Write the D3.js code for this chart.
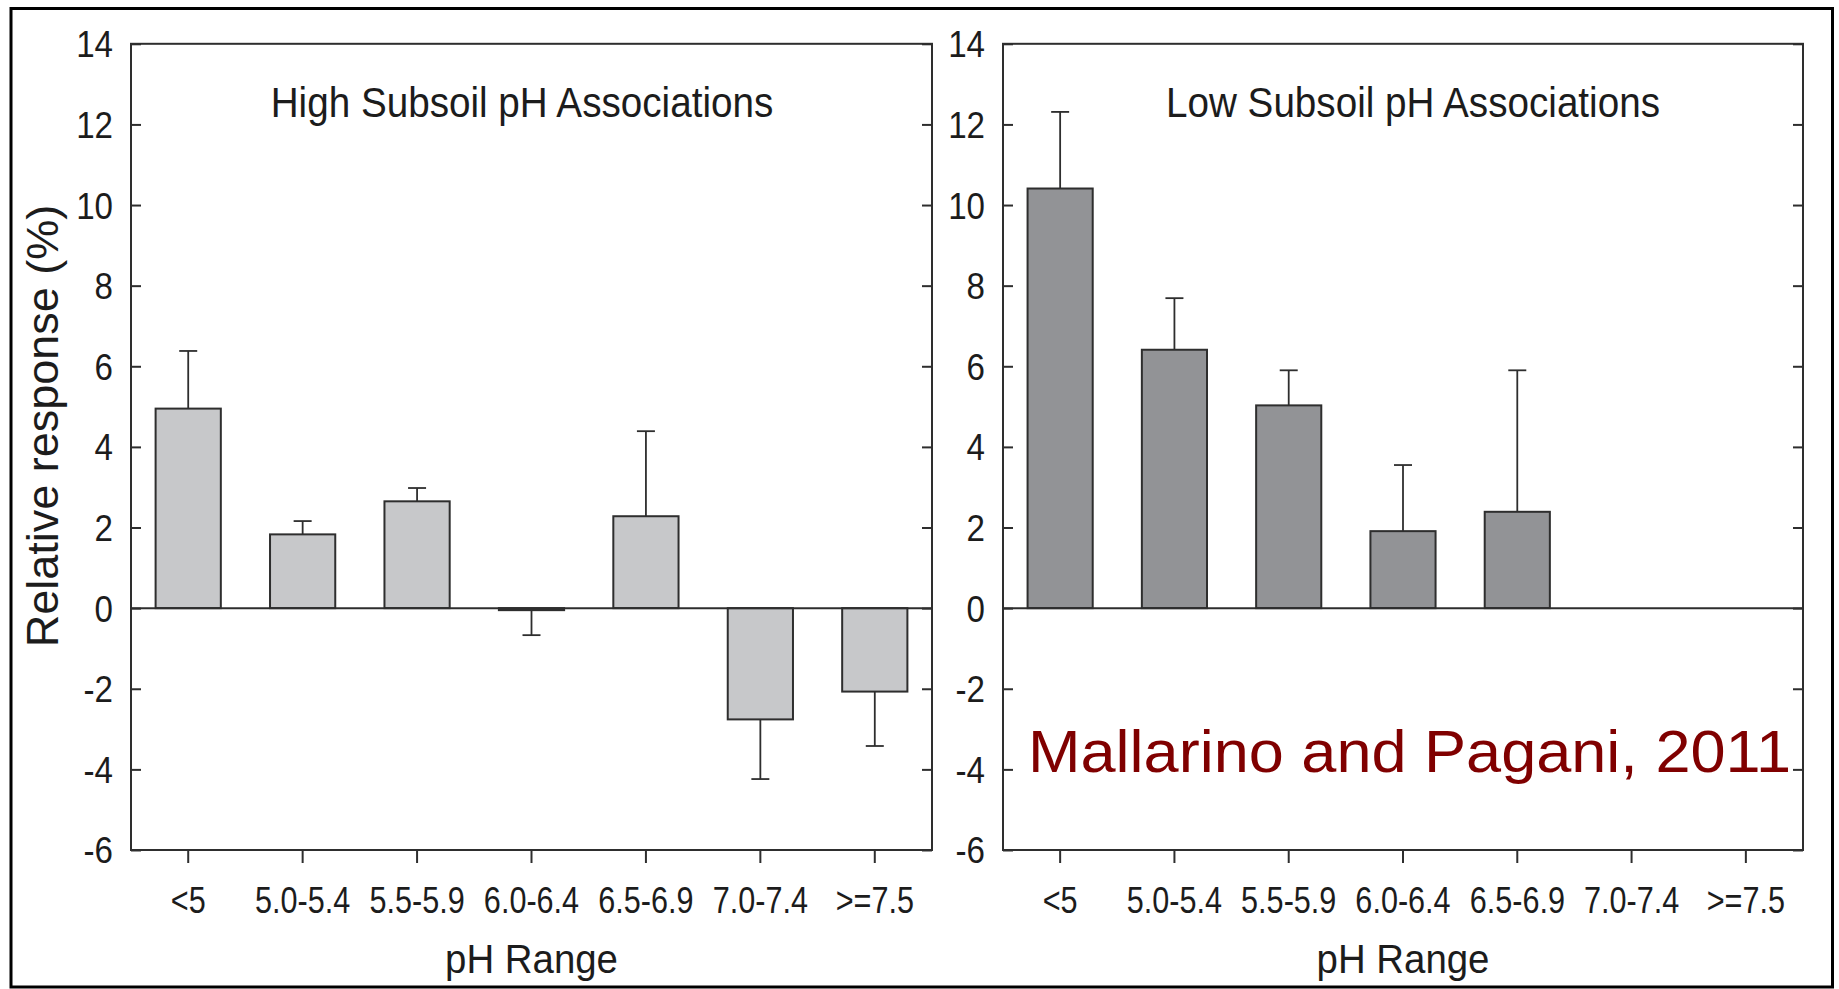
<!DOCTYPE html>
<html>
<head>
<meta charset="utf-8">
<script src="https://cdn.jsdelivr.net/npm/d3@7"></script>
<style>
  body { margin: 0; background: #fff; }
  svg { display: block; }
  text { font-family: "Liberation Sans", Arial, sans-serif; fill: #1c1c1c; }
</style>
</head>
<body>
<svg id="chart" width="1839" height="989"></svg>
<script>
// pH classes shared by both panels
const categories = ["<5", "5.0-5.4", "5.5-5.9", "6.0-6.4", "6.5-6.9", "7.0-7.4", ">=7.5"];

// High subsoil pH associations: mean relative response (%) and one-sided error
const highMean = [4.95, 1.83, 2.65, -0.05, 2.28, -2.76, -2.07];
const highErr  = [1.43, 0.33, 0.33, 0.62, 2.11, 1.48, 1.35];

// Low subsoil pH associations (no data in the two highest pH classes)
const lowMean = [10.41, 6.41, 5.03, 1.91, 2.39, null, null];
const lowErr  = [1.90, 1.28, 0.87, 1.64, 3.51, null, null];

const yTicks = [-6, -4, -2, 0, 2, 4, 6, 8, 10, 12, 14];
const panelTitles = ["High Subsoil pH Associations", "Low Subsoil pH Associations"];
const xTitle = "pH Range";
const yTitle = "Relative response (%)";
const credit = "Mallarino and Pagani, 2011";

const svg = d3.select("#chart");
svg.append("rect").attr("width", 1839).attr("height", 989).attr("fill", "#fff");

// outer black border
svg.append("rect")
  .attr("x", 11).attr("y", 8.5).attr("width", 1821.5).attr("height", 978.5)
  .attr("fill", "none").attr("stroke", "#000").attr("stroke-width", 3);

const plotTop = 43.8, plotBottom = 850;
const y = d3.scaleLinear().domain([-6, 14]).range([plotBottom, plotTop]);

const panels = [
  { left: 131, right: 932, mean: highMean, err: highErr, fill: "#c7c8ca", title: panelTitles[0], titleX: 522 },
  { left: 1003, right: 1803, mean: lowMean, err: lowErr, fill: "#929396", title: panelTitles[1], titleX: 1413 }
];

// squeeze a text element horizontally to a fraction of its natural width
function condense(sel, k) {
  sel.each(function () {
    const w = this.getComputedTextLength();
    d3.select(this).attr("textLength", w * k).attr("lengthAdjust", "spacingAndGlyphs");
  });
}

const ink = "#2e2e2e";

panels.forEach(p => {
  const g = svg.append("g");
  const x = d3.scaleBand().domain(categories).range([p.left, p.right])
    .paddingInner(0.43).paddingOuter(0.215);

  const rows = categories.map((c, i) => ({ c, v: p.mean[i], e: p.err[i] }))
    .filter(d => d.v !== null);

  // error bars (one-sided, pointing away from zero)
  const capW = 18;
  const eb = g.append("g").attr("stroke", ink).attr("stroke-width", 1.8);
  rows.forEach(d => {
    const cx = x(d.c) + x.bandwidth() / 2;
    const end = d.v + Math.sign(d.v) * d.e;
    eb.append("line").attr("x1", cx).attr("x2", cx).attr("y1", y(d.v)).attr("y2", y(end));
    eb.append("line").attr("x1", cx - capW / 2).attr("x2", cx + capW / 2).attr("y1", y(end)).attr("y2", y(end));
  });

  // bars
  g.append("g").selectAll("rect").data(rows).join("rect")
    .attr("x", d => x(d.c))
    .attr("width", x.bandwidth())
    .attr("y", d => y(Math.max(0, d.v)))
    .attr("height", d => Math.abs(y(d.v) - y(0)))
    .attr("fill", p.fill)
    .attr("stroke", ink).attr("stroke-width", 2);

  // zero line
  g.append("line").attr("x1", p.left).attr("x2", p.right).attr("y1", y(0)).attr("y2", y(0))
    .attr("stroke", ink).attr("stroke-width", 2);

  // left axis: ticks point inward, labels outside
  const ya = g.append("g").attr("transform", `translate(${p.left},0)`)
    .style("color", ink)
    .call(d3.axisLeft(y).tickValues(yTicks).tickSizeInner(-10).tickSizeOuter(0)
      .tickPadding(18).tickFormat(d => String(d)));
  ya.select(".domain").remove();
  ya.selectAll(".tick line").attr("stroke-width", 2);
  ya.selectAll("text").attr("font-size", 36).attr("font-family", null)
    .style("fill", "#1c1c1c").attr("dy", "0.36em").call(condense, 0.92);

  // right side mirrored inward ticks
  const yr = g.append("g").attr("transform", `translate(${p.right},0)`)
    .style("color", ink)
    .call(d3.axisRight(y).tickValues(yTicks).tickSizeInner(-10).tickSizeOuter(0).tickFormat(""));
  yr.select(".domain").remove();
  yr.selectAll(".tick line").attr("stroke-width", 2);

  // bottom axis
  const xa = g.append("g").attr("transform", `translate(0,${plotBottom})`)
    .style("color", ink)
    .call(d3.axisBottom(x).tickSizeInner(13).tickSizeOuter(0));
  xa.select(".domain").remove();
  xa.selectAll(".tick line").attr("stroke-width", 2);
  xa.selectAll("text").attr("font-size", 36).attr("font-family", null).style("fill", "#1c1c1c")
    .attr("y", 63).attr("dy", 0).call(condense, 0.85);

  // frame
  g.append("rect").attr("x", p.left).attr("y", plotTop)
    .attr("width", p.right - p.left).attr("height", plotBottom - plotTop)
    .attr("fill", "none").attr("stroke", ink).attr("stroke-width", 2);

  // panel title
  g.append("text").attr("x", p.titleX).attr("y", 117).attr("text-anchor", "middle")
    .attr("font-size", 42).text(p.title).call(condense, 0.92);

  // x axis title
  g.append("text").attr("x", (p.left + p.right) / 2).attr("y", 973).attr("text-anchor", "middle")
    .attr("font-size", 40).text(xTitle).call(condense, 0.96);
});

// y axis title
svg.append("text")
  .attr("transform", "translate(58,426) rotate(-90)")
  .attr("text-anchor", "middle").attr("font-size", 45).text(yTitle);

// source credit
svg.append("text")
  .attr("x", 1028).attr("y", 772)
  .attr("font-family", "'DejaVu Sans', sans-serif").attr("font-size", 60)
  .style("fill", "#800000")
  .attr("textLength", 763).attr("lengthAdjust", "spacingAndGlyphs")
  .text(credit);
</script>
</body>
</html>
